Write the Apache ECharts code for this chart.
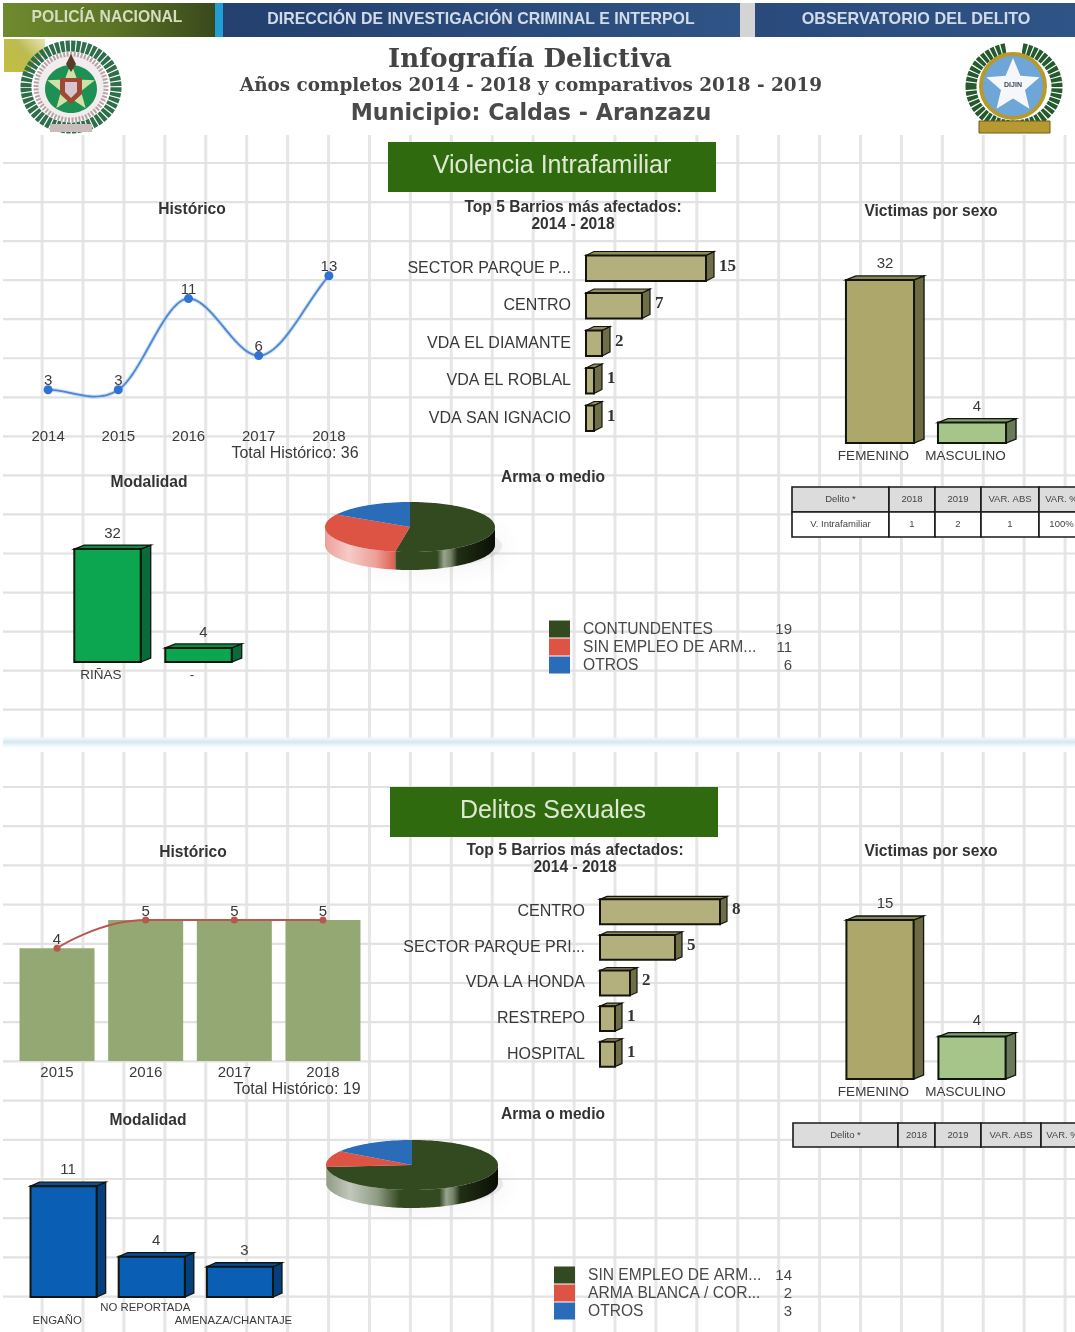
<!DOCTYPE html>
<html><head><meta charset="utf-8">
<script src="https://cdn.jsdelivr.net/npm/echarts@6/dist/echarts.min.js"></script>
<style>html,body{margin:0;padding:0;background:#fff;overflow:hidden}
#stage{width:1075px;height:1332px;filter:blur(0.5px)}#c{width:1075px;height:1332px}</style>
</head><body><div id="stage"><div id="c"></div></div>
<script>
// ---------- data ----------
const hist1Years = ['2014','2015','2016','2017','2018'];
const hist1Values = [3,3,11,6,13];
const hist2Years = ['2015','2016','2017','2018'];
const hist2Values = [4,5,5,5];
const barrios1Names = ['SECTOR PARQUE P...','CENTRO','VDA EL DIAMANTE','VDA EL ROBLAL','VDA SAN IGNACIO'];
const barrios1Values = [15,7,2,1,1];
const barrios2Names = ['CENTRO','SECTOR PARQUE PRI...','VDA LA HONDA','RESTREPO','HOSPITAL'];
const barrios2Values = [8,5,2,1,1];
const sexoNames = ['FEMENINO','MASCULINO'];
const sexo1Values = [32,4];
const sexo2Values = [15,4];
const modal1Names = ['RIÑAS','-'];
const modal1Values = [32,4];
const modal2Names = ['ENGAÑO','NO REPORTADA','AMENAZA/CHANTAJE'];
const modal2Values = [11,4,3];
const arma1Names = ['CONTUNDENTES','SIN EMPLEO DE ARM...','OTROS'];
const arma1Values = [19,11,6];
const arma2Names = ['SIN EMPLEO DE ARM...','ARMA BLANCA / COR...','OTROS'];
const arma2Values = [14,2,3];
const tableHeadA = ['Delito *','2018','2019','VAR. ABS','VAR. %'];
const tableRowA = ['V. Intrafamiliar','1','2','1','100%'];
const tableHeadB = ['Delito *','2018','2019','VAR. ABS','VAR. %'];

// ---------- palette ----------
const INK='#3a3a3a', KHAKI=['#b4b07e','#6f6e49','#8f8c60'], OLIVE=['#ada76b','#6e6b42','#8a8654'],
      MOSS=['#a5c58a','#6a7a58','#83a06c'], GREEN=['#0ca550','#0b6a39','#0a8a44'], BLUE=['#0a5fb4','#063f7e','#084f98'];
const SLICE=['#33491f','#dd5344','#2b6cb9'];
const SANS='"Liberation Sans",Arial,sans-serif', SERIF='"Liberation Serif",serif';

// ---------- helpers ----------
function mix(hex,t,to){to=to||[255,255,255];const n=parseInt(hex.slice(1),16),c=[n>>16,(n>>8)&255,n&255];
  return 'rgb('+c.map((v,i)=>Math.round(v+(to[i]-v)*t)).join(',')+')';}

function catAxis(gi,names,o){return Object.assign({type:'category',gridIndex:gi,data:names,axisLine:{show:false},axisTick:{show:false},
  splitLine:{show:false},axisLabel:Object.assign({interval:0,hideOverlap:false,color:INK,fontFamily:SANS,fontSize:13},o&&o.label||{})},o&&o.axis||{});}
function valAxis(gi,max,o){return Object.assign({type:'value',gridIndex:gi,min:0,max:max,show:false,splitLine:{show:false}},o||{});}

function bar3dV(name,gi,values,cols,ratio,dx,dy,lift){
  return {type:'custom',name:name,xAxisIndex:gi,yAxisIndex:gi,encode:{x:0,y:1},data:values.map((v,i)=>[i,v]),z:3,
   renderItem(p,api){
    const top=api.coord([api.value(0),api.value(1)]),base=api.coord([api.value(0),0]);
    const w=api.size([1,0])[0]*ratio,x=top[0]-w/2,y=top[1],b=base[1],S='#0e160e';
    return {type:'group',children:[
     {type:'polygon',shape:{points:[[x+w,y],[x+w+dx,y-dy],[x+w+dx,b-dy],[x+w,b]]},style:{fill:cols[1],stroke:S,lineWidth:1.3}},
     {type:'polygon',shape:{points:[[x,y],[x+dx,y-dy],[x+w+dx,y-dy],[x+w,y]]},style:{fill:cols[2],stroke:S,lineWidth:1.3}},
     {type:'rect',shape:{x:x,y:y,width:w,height:b-y},style:{fill:cols[0],stroke:S,lineWidth:2}},
     {type:'text',x:top[0]+dx/2,y:y-lift,style:{text:String(api.value(1)),fill:INK,font:'15px '+SANS,align:'center',verticalAlign:'middle'}}
    ]};
   }};
}
function bar3dH(name,gi,values,cols,ratio,dx,dy){
  return {type:'custom',name:name,xAxisIndex:gi,yAxisIndex:gi,encode:{x:0,y:1},data:values.map((v,i)=>[v,i]),z:3,
   renderItem(p,api){
    const end=api.coord([api.value(0),api.value(1)]),base=api.coord([0,api.value(1)]);
    const h=api.size([0,1])[1]*ratio,y=end[1]-h/2,x=base[0],e=end[0],S='#14140c';
    return {type:'group',children:[
     {type:'polygon',shape:{points:[[e,y],[e+dx,y-dy],[e+dx,y+h-dy],[e,y+h]]},style:{fill:cols[1],stroke:S,lineWidth:1.2}},
     {type:'polygon',shape:{points:[[x,y],[x+dx,y-dy],[e+dx,y-dy],[e,y]]},style:{fill:cols[2],stroke:S,lineWidth:1.2}},
     {type:'rect',shape:{x:x,y:y,width:e-x,height:h},style:{fill:cols[0],stroke:S,lineWidth:2}},
     {type:'text',x:e+dx+5,y:end[1]-2,style:{text:String(api.value(0)),fill:'#333',font:'bold 17px '+SERIF,align:'left',verticalAlign:'middle'}}
    ]};
   }};
}
function sliceSeries(names,values,idx,cx,cy,rx,ry,depth){
  const total=values.reduce((a,b)=>a+b,0);
  const before=values.slice(0,idx).reduce((a,b)=>a+b,0);
  return {type:'custom',name:names[idx],coordinateSystem:'none',data:[[values[idx]]],z:3,
   renderItem(p,api){
    const a0=-Math.PI/2+before/total*2*Math.PI, a1=a0+api.value(0)/total*2*Math.PI, c=SLICE[idx];
    const pt=(a,dy)=>[cx+rx*Math.cos(a),cy+ry*Math.sin(a)+(dy||0)];
    const arc=(s,e,dy)=>{const n=Math.max(2,Math.ceil((e-s)*40)),o=[];for(let i=0;i<=n;i++)o.push(pt(s+(e-s)*i/n,dy));return o;};
    const topPts=[[cx,cy]].concat(arc(a0,a1));
    const children=[];
    // the visible rim is the part of the slice's arc on the near half of the ellipse
    [[0,Math.PI],[2*Math.PI,3*Math.PI]].forEach(([lo,hi])=>{
      const s=Math.max(a0,lo),e=Math.min(a1,hi);
      if(e>s){
        const rim={type:'linear',x:cx-rx,y:0,x2:cx+rx,y2:0,global:true,colorStops:[
          {offset:0,color:mix(c,.45)},{offset:.14,color:mix(c,.7)},{offset:.3,color:mix(c,.45)},{offset:.43,color:c},
          {offset:.66,color:c},{offset:.7,color:mix(c,.5)},{offset:.74,color:mix(c,.32)},{offset:.78,color:mix(c,.35,[0,0,0])},
          {offset:1,color:mix(c,.8,[0,0,0])}]};
        children.push({type:'polygon',shape:{points:arc(s,e,0).concat(arc(s,e,depth).reverse())},style:{fill:rim}});
      }
    });
    children.push({type:'polygon',shape:{points:topPts},style:{fill:c}});
    return {type:'group',children};
   }};
}
function armaLegend(names,values,left,top,textW){
  const lookup={};names.forEach((n,i)=>lookup[n]=values[i]);
  return {left:left,top:top,orient:'vertical',itemWidth:21,itemHeight:17,itemGap:0,icon:'rect',selectedMode:false,padding:0,
    data:names.map((n,i)=>({name:n,itemStyle:{color:SLICE[i]}})),
    formatter:n=>'{a|'+n+'}{b|'+lookup[n]+'}',
    textStyle:{rich:{a:{width:textW,fontSize:15.6,lineHeight:15,color:'#484848',fontFamily:SANS,padding:[2,0,0,8]},
                     b:{width:18,align:'right',fontSize:15,lineHeight:15,color:'#484848',fontFamily:SANS,padding:[2,0,0,0]}}}};
}

// ---------- static page furniture ----------
const gfx=[];
function T(x,y,text,size,o){o=o||{};gfx.push({type:'text',x:x,y:y,z:o.z||5,style:{text:text,fill:o.color||'#333',
  font:(o.weight||'normal')+' '+size+'px '+(o.font||SANS),align:o.align||'center',verticalAlign:'middle'}});}
function R(x,y,w,h,fill,o){gfx.push(Object.assign({type:'rect',z:1,shape:{x:x,y:y,width:w,height:h},style:{fill:fill}},o||{}));}
function H(x0,x1,stops){return {type:'linear',x:0,y:0,x2:1,y2:0,colorStops:stops.map((c,i)=>({offset:i/(stops.length-1),color:c}))};}

// notebook-style background grid
for(let x=42.1;x<1075;x+=40.92){
  [[135,738],[752,1332]].forEach(([a,b])=>gfx.push({type:'line',z:-5,shape:{x1:x,y1:a,x2:x,y2:b},style:{stroke:'#e6e6e6',lineWidth:3}}));
}
for(let y=163;y<720;y+=39.05)gfx.push({type:'line',z:-4,shape:{x1:3,y1:y,x2:1075,y2:y},style:{stroke:'#e2e2e2',lineWidth:2.2}});
for(let y=787;y<1310;y+=39.2)gfx.push({type:'line',z:-4,shape:{x1:3,y1:y,x2:1075,y2:y},style:{stroke:'#e2e2e2',lineWidth:2.2}});
R(3,735,1072,14,{type:'linear',x:0,y:0,x2:0,y2:1,colorStops:[{offset:0,color:'rgba(235,246,252,0)'},{offset:.5,color:'#d3e6f2'},{offset:1,color:'rgba(235,246,252,0)'}]},{z:-3});

// header bands
R(3,3,212,34,H(0,1,['#6f8a2e','#5d7526','#39491c']));
R(215,3,8,34,'#1f9fd6');
R(223,3,517,34,H(0,1,['#23406e','#2f5486']));
R(740,3,15,34,'#d4d4d4');
R(755,3,320,34,H(0,1,['#2a4a7c','#2f5486']));
T(107,18,'POLICÍA NACIONAL',15.7,{weight:'bold',color:'#d6dcc0'});
T(481,20,'DIRECCIÓN DE INVESTIGACIÓN CRIMINAL E INTERPOL',15.9,{weight:'bold',color:'#d3dbe8'});
T(916,20,'OBSERVATORIO DEL DELITO',16.2,{weight:'bold',color:'#d3dbe8'});

T(530,60,'Infografía Delictiva',26,{font:'"DejaVu Serif",serif',weight:'bold',color:'#444'});
T(531,86,'Años completos 2014 - 2018 y comparativos 2018 - 2019',18.4,{font:'"DejaVu Serif",serif',weight:'bold',color:'#444'});
T(531,114,'Municipio: Caldas - Aranzazu',22.2,{font:'"DejaVu Sans",sans-serif',weight:'bold',color:'#4a4a4a'});

// police crest
R(4,39,41,33,{type:'linear',x:0,y:1,x2:1,y2:0,colorStops:[{offset:0,color:'#c2bf3e'},{offset:.55,color:'#bdbb50'},{offset:1,color:'#e7e6b4'}]},{z:1});
const E=(cx,cy,rx,ry,style,z)=>gfx.push({type:'ellipse',z:z||2,shape:{cx,cy,rx,ry},style});
E(71,87,45,41,{fill:'#fff',stroke:'#2f6e4a',lineWidth:11,lineDash:[4,1.2]});
E(71,87,35,33,{fill:'#f1eded',stroke:'#b9a3a8',lineWidth:5,lineDash:[2,1.5]});
E(71,89,26,24,{fill:'#1f9053'});
const star=(cx,cy,r,ratio)=>{const o=[];for(let i=0;i<10;i++){const a=-Math.PI/2+i*Math.PI/5,q=i%2?r*ratio:r;o.push([cx+q*Math.cos(a),cy+q*Math.sin(a)]);}return o;};
gfx.push({type:'polygon',z:2,shape:{points:star(71,88,25,.42)},style:{fill:'#cfe0a8'}});
gfx.push({type:'polygon',z:2,shape:{points:[[60,78],[82,78],[82,94],[71,104],[60,94]]},style:{fill:'#9c4a34'}});
gfx.push({type:'polygon',z:2,shape:{points:[[65,82],[77,82],[77,92],[71,98],[65,92]]},style:{fill:'#d9c5cf'}});
gfx.push({type:'polygon',z:2,shape:{points:[[71,54],[76,64],[71,72],[66,64]]},style:{fill:'#5b3a2a'}});
R(50,124,42,8,'#cbbcbc',{z:2});
// DIJIN crest
E(1014,87,43,39,{fill:'#fff',stroke:'#245a2c',lineWidth:11,lineDash:[4,1.2]});
R(1006,42,16,12,'#ffffff',{z:2});
E(1013,86,32,32,{fill:'#6ea6d8',stroke:'#b79a2e',lineWidth:4});
gfx.push({type:'polygon',z:2,shape:{points:star(1013,86,28,.45)},style:{fill:'#f5f7fa'}});
R(979,121,71,12,'#b7992f',{z:2,style:{fill:'#b7992f',stroke:'#6f5a18',lineWidth:1}});
T(1013,85,'DIJIN',7,{weight:'bold',color:'#394a5c'});

// section headers
R(388,142,328,50,'#2f6a0f');
T(552,166,'Violencia Intrafamiliar',25,{color:'#dfe9d2'});
R(390,787,328,50,'#2f6a0f');
T(553,811,'Delitos Sexuales',25,{color:'#dfe9d2'});

// sub-titles
const B={weight:'bold',color:'#333'};
T(192,210,'Histórico',15.6,B);
T(573,208,'Top 5 Barrios más afectados:',15.6,B);
T(573,225,'2014 - 2018',15.6,B);
T(931,212,'Victimas por sexo',15.6,B);
T(149,483,'Modalidad',15.6,B);
T(553,478,'Arma o medio',15.6,B);
T(295,454,'Total Histórico: 36',16,{color:INK});
T(193,853,'Histórico',15.6,B);
T(575,851,'Top 5 Barrios más afectados:',15.6,B);
T(575,868,'2014 - 2018',15.6,B);
T(931,852,'Victimas por sexo',15.6,B);
T(148,1121,'Modalidad',15.6,B);
T(553,1115,'Arma o medio',15.6,B);
T(297,1090,'Total Histórico: 19',16,{color:INK});

// comparison tables
function table(cols,rows,lines){
  lines.forEach((cells,r)=>cells.forEach((txt,c)=>{
    gfx.push({type:'rect',z:2,shape:{x:cols[c],y:rows[r],width:cols[c+1]-cols[c],height:rows[r+1]-rows[r]},
      style:{fill:r===0?'#dcdcdc':'#ffffff',stroke:'#1a1a1a',lineWidth:1.6}});
    T((cols[c]+cols[c+1])/2-(c===4?8:0),(rows[r]+rows[r+1])/2,txt,9.5,{color:'#444'});
  }));
}
table([792,889,935,981,1039,1100],[487,512,537],[tableHeadA,tableRowA]);
table([793,898,935,981,1041,1100],[1123,1147],[tableHeadB]);

// soft drop shadows beneath the discs
E(424,546,78,22,{fill:'rgba(120,120,120,.12)',shadowBlur:24,shadowColor:'rgba(90,90,90,.8)'},-1);
E(425,1184,78,22,{fill:'rgba(120,120,120,.12)',shadowBlur:24,shadowColor:'rgba(90,90,90,.8)'},-1);

// ---------- grids ----------
const grid=[
 {left:13,top:241.6,width:351,height:182.4},
 {left:586,top:249.5,width:160,height:187.5},
 {left:834,top:259.5,width:184,height:183.5},
 {left:62,top:535,width:182,height:127},
 {left:12.7,top:891.8,width:354.6,height:169.2},
 {left:600,top:894,width:150,height:178},
 {left:834,top:888.2,width:184,height:190.8},
 {left:19.5,top:1166,width:264.5,height:131}
];
const yr={fontSize:15,margin:5};
const shifted={fontSize:13.5,margin:6,padding:[0,13,0,0]};
const xAxis=[
 catAxis(0,hist1Years,{label:yr}),
 valAxis(1,20),
 catAxis(2,sexoNames,{label:shifted}),
 catAxis(3,modal1Names,{label:shifted}),
 catAxis(4,hist2Years,{label:{fontSize:15,margin:4}}),
 valAxis(5,10),
 catAxis(6,sexoNames,{label:shifted}),
 catAxis(7,modal2Names,{label:{fontSize:11.4,margin:4,lineHeight:13,padding:[0,13,0,0],formatter:(v,i)=>i===1?v:'\n'+v}})
];
const hLabel={fontSize:16,margin:15,color:'#383838',padding:[3,0,0,0]};
const yAxis=[
 valAxis(0,16),
 catAxis(1,barrios1Names,{label:hLabel,axis:{inverse:true}}),
 valAxis(2,36),
 valAxis(3,36),
 valAxis(4,6),
 catAxis(5,barrios2Names,{label:hLabel,axis:{inverse:true}}),
 valAxis(6,18),
 valAxis(7,13)
];

// ---------- series ----------
function tangents(v){return v.map((y,i)=>{
  if(i===0)return v[1]-v[0];
  if(i===v.length-1)return v[i]-v[i-1];
  const a=v[i]-v[i-1],b=v[i+1]-v[i];
  return a*b<0?0:(v[i+1]-v[i-1])/2;});}
const hist1T=tangents(hist1Values);
const pointLabel={show:true,position:'top',distance:-3,color:INK,fontSize:15,fontFamily:SANS};

const series=[
 {type:'custom',name:'Curva',xAxisIndex:0,yAxisIndex:0,encode:{x:0,y:1},z:3,
  data:hist1Values.map((v,i)=>[i,v]),
  renderItem(p,api){
    const i=api.value(0);if(i>=hist1Values.length-1)return null;
    const P=(t)=>{const h00=2*t*t*t-3*t*t+1,h10=t*t*t-2*t*t+t,h01=-2*t*t*t+3*t*t,h11=t*t*t-t*t;
      return h00*hist1Values[i]+h10*hist1T[i]+h01*hist1Values[i+1]+h11*hist1T[i+1];};
    const a=api.coord([i,hist1Values[i]]),b=api.coord([i+1,hist1Values[i+1]]),pts=[];
    for(let k=0;k<=24;k++){const t=k/24,c=api.coord([i,P(t)]);pts.push([a[0]+(b[0]-a[0])*t,c[1]]);}
    return {type:'group',children:[
      {type:'polyline',shape:{points:pts},style:{fill:'none',stroke:'rgba(160,200,245,.55)',lineWidth:4}},
      {type:'polyline',shape:{points:pts},style:{fill:'none',stroke:'#4f86d0',lineWidth:1.8}}]};
  }},
 {type:'line',name:'Histórico',xAxisIndex:0,yAxisIndex:0,data:hist1Values,z:4,symbol:'circle',symbolSize:9,
  lineStyle:{width:0},itemStyle:{color:'#2f72d4'},label:pointLabel},
 bar3dH('Barrios VI',1,barrios1Values,KHAKI,.68,8,4),
 bar3dV('Sexo VI',2,sexo1Values,OLIVE,.74,10,4,16),
 bar3dV('Modalidad VI',3,modal1Values,GREEN,.73,10,4,15),
 {type:'bar',name:'Delitos',xAxisIndex:4,yAxisIndex:4,data:hist2Values,barWidth:75,itemStyle:{color:'#93a873'},z:2},
 {type:'line',name:'Delitos línea',xAxisIndex:4,yAxisIndex:4,data:hist2Values,smooth:.5,z:4,symbol:'circle',symbolSize:7,
  lineStyle:{color:'#b9564e',width:1.8},itemStyle:{color:'#b9564e'},label:pointLabel},
 bar3dH('Barrios DS',5,barrios2Values,KHAKI,.7,7,3),
 bar3dV('Sexo DS',6,sexo2Values,OLIVE,.73,10,4,16),
 bar3dV('Modalidad DS',7,modal2Values,BLUE,.75,9,4,16)
];
// per-category colours for the two-tone sex charts
[3,8].forEach(ix=>{
  const s=series[ix],orig=s.renderItem;
  s.renderItem=function(p,api){
    const g=orig(p,api);
    if(api.value(0)===1){const c=MOSS;g.children[0].style.fill=c[1];g.children[1].style.fill=c[2];g.children[2].style.fill=c[0];}
    return g;
  };
});
arma1Names.forEach((n,i)=>series.push(sliceSeries(arma1Names,arma1Values,i,410,527,85,25,18)));
arma2Names.forEach((n,i)=>series.push(sliceSeries(arma2Names,arma2Values,i,412,1165,86,25,18)));

const chart=echarts.init(document.getElementById('c'),null,{renderer:'canvas'});
chart.setOption({animation:false,backgroundColor:'#ffffff',tooltip:{show:false},grid,xAxis,yAxis,series,
  legend:[armaLegend(arma1Names,arma1Values,549,620,191),armaLegend(arma2Names,arma2Values,554,1266,186)],
  graphic:{elements:gfx}});
</script></body></html>
